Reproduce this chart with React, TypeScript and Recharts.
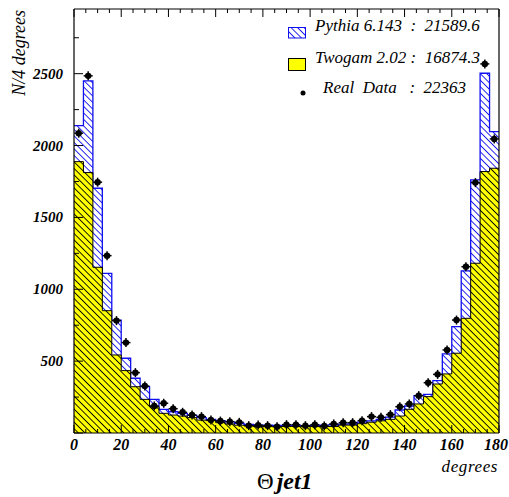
import React from 'react';
import { ComposedChart, Area, Scatter, XAxis, YAxis } from 'recharts';

// Bin edges (degrees), 4-degree bins
const binEdges = [0, 4, 8, 12, 16, 20, 24, 28, 32, 36, 40, 44, 48, 52, 56, 60, 64, 68, 72, 76, 80, 84, 88, 92, 96, 100, 104, 108, 112, 116, 120, 124, 128, 132, 136, 140, 144, 148, 152, 156, 160, 164, 168, 172, 176, 180];
const binCenters = [2, 6, 10, 14, 18, 22, 26, 30, 34, 38, 42, 46, 50, 54, 58, 62, 66, 70, 74, 78, 82, 86, 90, 94, 98, 102, 106, 110, 114, 118, 122, 126, 130, 134, 138, 142, 146, 150, 154, 158, 162, 166, 170, 174, 178];

// Pythia 6.143 prediction per bin
const pythia = [2139, 2450, 1703, 1111, 786, 520, 381, 322, 234, 165, 148, 137, 123, 107, 95, 86, 77, 67, 60, 55, 55, 53, 53, 52, 52, 53, 55, 58, 62, 64, 75, 85, 95, 110, 160, 188, 260, 269, 364, 550, 740, 1128, 1761, 2503, 2097];
// Twogam 2.02 prediction per bin
const twogam = [1888, 1812, 1153, 851, 543, 434, 322, 234, 183, 137, 125, 118, 107, 90, 86, 72, 63, 54, 50, 45, 45, 45, 45, 45, 45, 45, 45, 45, 55, 55, 65, 75, 85, 95, 118, 165, 202, 253, 341, 411, 555, 798, 1181, 1819, 1842];
// Real data per bin
const realData = [2086, 2485, 1745, 1234, 782, 629, 420, 327, 188, 207, 169, 144, 125, 114, 90, 83, 79, 74, 51, 55, 51, 44, 58, 58, 51, 58, 49, 63, 72, 72, 86, 114, 109, 128, 183, 202, 260, 350, 408, 578, 786, 1157, 1742, 2568, 2046];

const xTicks = [0, 5, 10, 15, 20, 25, 30, 35, 40, 45, 50, 55, 60, 65, 70, 75, 80, 85, 90, 95, 100, 105, 110, 115, 120, 125, 130, 135, 140, 145, 150, 155, 160, 165, 170, 175, 180];
const yTicks = [0, 250, 500, 750, 1000, 1250, 1500, 1750, 2000, 2250, 2500, 2750];

const legendEntries = {
  pythia: 'Pythia 6.143  :  21589.6',
  twogam: 'Twogam 2.02 :  16874.3',
  data: 'Real  Data   :  22363',
};

const hist = binEdges.map((x, i) => ({
  x,
  pythia: pythia[Math.min(i, pythia.length - 1)],
  twogam: twogam[Math.min(i, twogam.length - 1)],
}));
const points = binCenters.map((x, i) => ({ x, y: realData[i] }));

const FONT = '"Liberation Serif", "Times New Roman", serif';
const BLUE = '#1010f0';

const BottomTick = (props: any) => {
  const { x, y, payload } = props;
  const v = payload.value;
  const major = v % 20 === 0;
  const last = v === 180;
  return (
    <g>
      <line x1={x} y1={y} x2={x} y2={y - (major ? 8 : 4)} stroke="#000" strokeWidth={1} />
      {major && (
        <text
          x={last ? x + 9 : x}
          y={y + 17}
          textAnchor={last ? 'end' : 'middle'}
          fontFamily={FONT}
          fontWeight="bold"
          fontStyle="italic"
          fontSize={16}
          fill="#000"
        >
          {v}
        </text>
      )}
    </g>
  );
};

const TopTick = (props: any) => {
  const { x, y, payload } = props;
  const major = payload.value % 20 === 0;
  return <line x1={x} y1={y} x2={x} y2={y + (major ? 8 : 4)} stroke="#000" strokeWidth={1} />;
};

const LeftTick = (props: any) => {
  const { x, y, payload } = props;
  const v = payload.value;
  const major = v % 500 === 0;
  return (
    <g>
      <line x1={x} y1={y} x2={x + (major ? 9 : 5)} y2={y} stroke="#000" strokeWidth={1} />
      {major && v !== 0 && (
        <text x={x - 11} y={y + 5} textAnchor="end" fontFamily={FONT} fontWeight="bold" fontStyle="italic" fontSize={15} fill="#000">
          {v}
        </text>
      )}
    </g>
  );
};

const RightTick = (props: any) => {
  const { x, y, payload } = props;
  const major = payload.value % 500 === 0;
  return <line x1={x} y1={y} x2={x - (major ? 9 : 5)} y2={y} stroke="#000" strokeWidth={1} />;
};

const DataMarker = (props: any) => {
  const { cx, cy } = props;
  if (cx == null || cy == null) return null;
  return (
    <g>
      <line x1={cx - 4.5} y1={cy} x2={cx + 4.5} y2={cy} stroke="#000" strokeWidth={1.5} />
      <line x1={cx} y1={cy - 4.5} x2={cx} y2={cy + 4.5} stroke="#000" strokeWidth={1.5} />
      <circle cx={cx} cy={cy} r={3.2} fill="#000" />
    </g>
  );
};

const Patterns = ({ prefix }: { prefix: string }) => (
  <defs>
    <pattern id={`${prefix}yellow`} patternUnits="userSpaceOnUse" width={4.6} height={4.6} patternTransform="rotate(-45)">
      <rect x={0} y={0} width={4.6} height={4.6} fill="#ffff00" />
      <line x1={2.3} y1={-1} x2={2.3} y2={6} stroke="#000" strokeWidth={0.9} />
    </pattern>
    <pattern id={`${prefix}blue`} patternUnits="userSpaceOnUse" width={4.6} height={4.6} patternTransform="rotate(-45)">
      <rect x={0} y={0} width={4.6} height={4.6} fill="#ffffff" />
      <line x1={2.3} y1={-1} x2={2.3} y2={6} stroke={BLUE} strokeWidth={0.9} />
    </pattern>
  </defs>
);

export default function App() {
  return (
    <div style={{ position: 'absolute', left: 0, top: 0, width: 509, height: 497, background: '#fff' }}>
      <ComposedChart width={509} height={497} data={hist} margin={{ top: 8, right: 9, bottom: 0, left: 0 }}>
        <Patterns prefix="c" />
        <XAxis
          xAxisId="b"
          dataKey="x"
          type="number"
          domain={[0, 180]}
          ticks={xTicks}
          interval={0}
          orientation="bottom"
          height={64}
          tickSize={0}
          tickMargin={0}
          tickLine={false}
          axisLine={{ stroke: '#000', strokeWidth: 1.2 }}
          tick={<BottomTick />}
        />
        <XAxis
          xAxisId="t"
          dataKey="x"
          type="number"
          domain={[0, 180]}
          ticks={xTicks}
          interval={0}
          orientation="top"
          height={1}
          tickSize={0}
          tickMargin={0}
          tickLine={false}
          axisLine={{ stroke: '#000', strokeWidth: 1.2 }}
          tick={<TopTick />}
        />
        <YAxis
          yAxisId="l"
          type="number"
          domain={[0, 2950]}
          ticks={yTicks}
          interval={0}
          width={74}
          tickSize={0}
          tickMargin={0}
          tickLine={false}
          axisLine={{ stroke: '#000', strokeWidth: 1.2 }}
          tick={<LeftTick />}
        />
        <YAxis
          yAxisId="r"
          type="number"
          orientation="right"
          domain={[0, 2950]}
          ticks={yTicks}
          interval={0}
          width={1}
          tickSize={0}
          tickMargin={0}
          tickLine={false}
          axisLine={{ stroke: '#000', strokeWidth: 1.2 }}
          tick={<RightTick />}
        />
        <Area
          xAxisId="b"
          yAxisId="l"
          dataKey="pythia"
          type="stepAfter"
          fill="url(#cblue)"
          fillOpacity={1}
          stroke={BLUE}
          strokeWidth={1.3}
          isAnimationActive={false}
          dot={false}
          activeDot={false}
        />
        <Area
          xAxisId="b"
          yAxisId="l"
          dataKey="twogam"
          type="stepAfter"
          fill="url(#cyellow)"
          fillOpacity={1}
          stroke="#000"
          strokeWidth={1}
          isAnimationActive={false}
          dot={false}
          activeDot={false}
        />
        <Scatter
          xAxisId="b"
          yAxisId="l"
          data={points}
          dataKey="y"
          shape={<DataMarker />}
          isAnimationActive={false}
        />
      </ComposedChart>
      <svg width={509} height={497} style={{ position: 'absolute', left: 0, top: 0, pointerEvents: 'none' }}>
        <Patterns prefix="l" />
        <rect x={288.5} y={27.5} width={17} height={10.5} fill="url(#lblue)" stroke={BLUE} strokeWidth={1} />
        <text x={315} y={31} fontFamily={FONT} fontStyle="italic" fontSize={17} fill="#000" style={{ whiteSpace: 'pre' }}>
          {legendEntries.pythia}
        </text>
        <rect x={288.5} y={58.5} width={17} height={12} fill="#ffff00" stroke="#000" strokeWidth={1} />
        <text x={315} y={63} fontFamily={FONT} fontStyle="italic" fontSize={17} fill="#000" style={{ whiteSpace: 'pre' }}>
          {legendEntries.twogam}
        </text>
        <circle cx={303} cy={93} r={2.5} fill="#000" />
        <text x={323} y={93} fontFamily={FONT} fontStyle="italic" fontSize={17} fill="#000" style={{ whiteSpace: 'pre' }}>
          {legendEntries.data}
        </text>
        <text transform="translate(25,10) rotate(-90)" textAnchor="end" fontFamily={FONT} fontStyle="italic" fontSize={18} fill="#000">
          N/4 degrees
        </text>
        <text x={498} y={472} textAnchor="end" fontFamily={FONT} fontStyle="italic" fontSize={17} fill="#000" letterSpacing={0.6}>
          degrees
        </text>
        <text x={257} y={489} fontFamily={FONT} fill="#000">
          <tspan fontSize={23}>Θ</tspan>
          <tspan dx={3} fontSize={24} fontWeight="bold" fontStyle="italic">jet1</tspan>
        </text>
      </svg>
    </div>
  );
}
